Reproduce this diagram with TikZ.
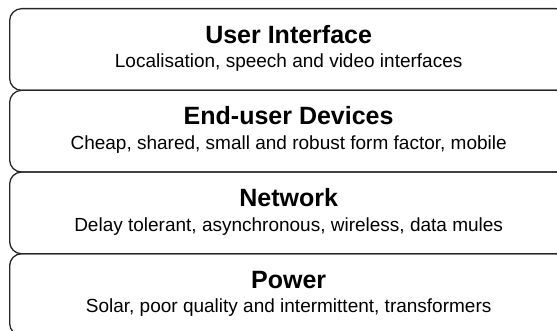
\documentclass[tikz,border=0pt]{standalone}
\usepackage{fontspec}
\setmainfont{Liberation Sans}
\begin{document}
\begin{tikzpicture}[x=1pt,y=1pt,
  layer/.style={draw=black!85, line width=1.3pt, rounded corners=12pt, minimum width=558pt, minimum height=81.7pt, inner sep=0pt, anchor=north west},
  ltitle/.style={anchor=base, inner sep=0pt, font=\fontsize{25}{30}\selectfont\bfseries},
  lsub/.style={anchor=base, inner sep=0pt, font=\fontsize{19}{23}\selectfont}]
\useasboundingbox (0,0) rectangle (557,-331);
\foreach \i/\n in {0/ui,1/dev,2/net,3/pow} {
  \node[layer] (\n) at (9,{-8-81.7*\i}) {};
}
\node[ltitle] (uit) at ([yshift=-35.3pt]ui.north) {User Interface};
\node[lsub] (uis) at ([yshift=-59.7pt]ui.north) {Localisation, speech and video interfaces};
\node[ltitle] (devt) at ([yshift=-35.3pt]dev.north) {End-user Devices};
\node[lsub] (devs) at ([yshift=-59.7pt]dev.north) {Cheap, shared, small and robust form factor, mobile};
\node[ltitle] (nett) at ([yshift=-35.3pt]net.north) {Network};
\node[lsub] (nets) at ([yshift=-59.7pt]net.north) {Delay tolerant, asynchronous, wireless, data mules};
\node[ltitle] (powt) at ([yshift=-35.3pt]pow.north) {Power};
\node[lsub] (pows) at ([yshift=-59.7pt]pow.north) {Solar, poor quality and intermittent, transformers};
\end{tikzpicture}
\end{document}
